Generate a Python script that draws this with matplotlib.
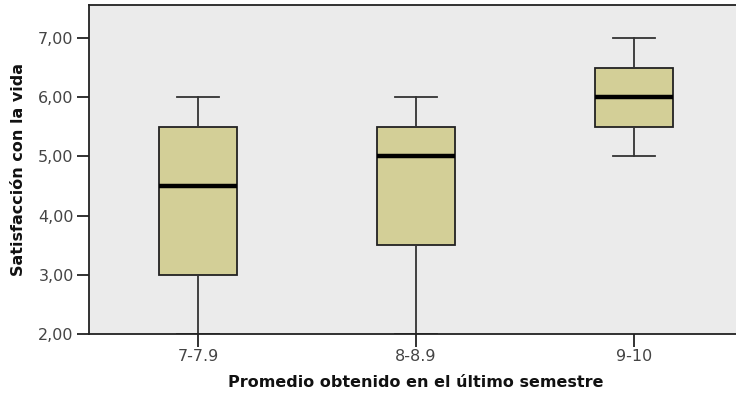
import matplotlib
matplotlib.use("Agg")
import matplotlib.pyplot as plt

categories = ["7-7.9", "8-8.9", "9-10"]
whisker_low = [2.0, 2.0, 5.0]
q1 = [3.0, 3.5, 5.5]
medians = [4.5, 5.0, 6.0]
q3 = [5.5, 5.5, 6.5]
whisker_high = [6.0, 6.0, 7.0]
y_ticks = [2, 3, 4, 5, 6, 7]

stats = []
for i, name in enumerate(categories):
    stats.append(dict(label=name, whislo=whisker_low[i], q1=q1[i], med=medians[i],
                      q3=q3[i], whishi=whisker_high[i], fliers=[]))

fig = plt.figure(figsize=(7.36, 3.96), dpi=100)
ax = fig.add_axes([89 / 736, 1 - 334 / 396, (743 - 89) / 736, (334 - 5) / 396])
ax.set_facecolor("#ebebeb")

positions = list(range(1, len(categories) + 1))
ax.bxp(stats, positions=positions, widths=0.36, patch_artist=True, showfliers=False,
       boxprops=dict(facecolor="#d3cf97", edgecolor="#222222", linewidth=1.3),
       medianprops=dict(color="black", linewidth=3.2),
       whiskerprops=dict(color="#333333", linewidth=1.3),
       capprops=dict(color="#333333", linewidth=1.3),
       capwidths=0.19)

ax.set_xlim(0.5, 3.5)
ax.set_ylim(2.0, 7.557)
ax.set_yticks(y_ticks)
ax.set_yticklabels([f"{v:.2f}".replace(".", ",") for v in y_ticks])
ax.set_xticks(positions)
ax.set_xticklabels(categories)

for side in ("left", "bottom", "top"):
    ax.spines[side].set_color("#222222")
    ax.spines[side].set_linewidth(1.3)
ax.spines["right"].set_visible(False)

ax.tick_params(axis="both", direction="out", length=9, width=1.3, color="#222222",
               labelcolor="#444444", labelsize=11.5, pad=2)

ax.set_ylabel("Satisfacción con la vida", fontsize=11.5, fontweight="bold",
              color="#111111", labelpad=9)
ax.set_xlabel("Promedio obtenido en el último semestre", fontsize=11.5,
              fontweight="bold", color="#111111", labelpad=8)

fig.savefig("out.png", dpi=100)
